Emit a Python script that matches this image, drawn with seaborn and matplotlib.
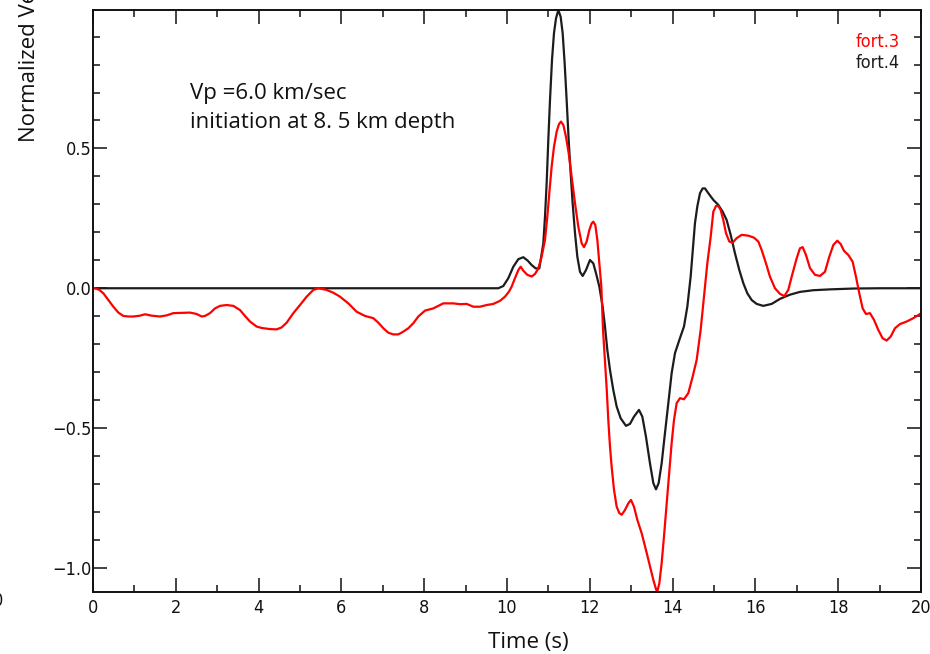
import matplotlib
matplotlib.use("Agg")
import matplotlib.pyplot as plt
from matplotlib import font_manager
from matplotlib.ticker import MultipleLocator, FuncFormatter
import seaborn as sns
import pandas as pd

# fort.3 trace (time in s, normalized velocity)
fort3_t = [0.000, 0.048, 0.153, 0.250, 0.370, 0.491, 0.612, 0.733, 0.853, 0.974, 1.135,
           1.256, 1.417, 1.618, 1.779, 1.940, 2.142, 2.343, 2.504, 2.625, 2.705, 2.826,
           2.947, 3.068, 3.229, 3.390, 3.551, 3.671, 3.792, 3.953, 4.074, 4.275, 4.436,
           4.557, 4.678, 4.839, 5.000, 5.161, 5.322, 5.443, 5.644, 5.805, 5.966, 6.167,
           6.369, 6.570, 6.771, 6.892, 7.013, 7.134, 7.254, 7.375, 7.496, 7.617, 7.738,
           7.858, 8.019, 8.221, 8.462, 8.704, 8.865, 9.026, 9.187, 9.348, 9.509, 9.670,
           9.831, 9.952, 10.048, 10.113, 10.193, 10.274, 10.330, 10.394, 10.491, 10.596,
           10.676, 10.757, 10.837, 10.918, 10.974, 11.022, 11.079, 11.135, 11.200, 11.256,
           11.304, 11.361, 11.425, 11.490, 11.562, 11.643, 11.723, 11.804, 11.860, 11.924,
           11.989, 12.045, 12.085, 12.134, 12.182, 12.230, 12.279, 12.320, 12.370, 12.410,
           12.447, 12.488, 12.528, 12.585, 12.649, 12.713, 12.770, 12.850, 12.931, 12.995,
           13.067, 13.148, 13.253, 13.357, 13.454, 13.535, 13.599, 13.630, 13.680, 13.736,
           13.792, 13.857, 13.921, 13.977, 14.034, 14.098, 14.179, 14.275, 14.380, 14.485,
           14.582, 14.678, 14.758, 14.839, 14.920, 14.984, 15.048, 15.105, 15.161, 15.225,
           15.290, 15.370, 15.451, 15.547, 15.668, 15.829, 15.966, 16.071, 16.151, 16.256,
           16.353, 16.473, 16.594, 16.699, 16.795, 16.876, 16.997, 17.077, 17.142, 17.222,
           17.319, 17.440, 17.560, 17.681, 17.786, 17.883, 17.979, 18.060, 18.140, 18.245,
           18.349, 18.430, 18.510, 18.591, 18.671, 18.768, 18.865, 18.969, 19.074, 19.171,
           19.267, 19.372, 19.493, 19.654, 19.815, 20.000]
fort3_v = [0.000, 0.000, -0.006, -0.018, -0.042, -0.066, -0.087, -0.099, -0.101, -0.101,
           -0.098, -0.093, -0.098, -0.101, -0.097, -0.089, -0.088, -0.087, -0.092, -0.101,
           -0.099, -0.089, -0.072, -0.063, -0.060, -0.063, -0.078, -0.099, -0.119, -0.137,
           -0.142, -0.146, -0.147, -0.140, -0.123, -0.089, -0.060, -0.030, -0.006, 0.000,
           -0.006, -0.016, -0.030, -0.054, -0.084, -0.099, -0.107, -0.123, -0.143, -0.159,
           -0.165, -0.165, -0.155, -0.143, -0.125, -0.101, -0.080, -0.072, -0.054, -0.054,
           -0.057, -0.056, -0.066, -0.066, -0.060, -0.056, -0.045, -0.030, -0.012, 0.006,
           0.036, 0.065, 0.077, 0.063, 0.048, 0.042, 0.051, 0.071, 0.113, 0.173, 0.256,
           0.340, 0.435, 0.506, 0.560, 0.587, 0.596, 0.584, 0.542, 0.483, 0.399, 0.304,
           0.220, 0.161, 0.147, 0.167, 0.208, 0.232, 0.238, 0.226, 0.173, 0.089, 0.006,
           -0.149, -0.268, -0.364, -0.471, -0.566, -0.638, -0.721, -0.781, -0.804, -0.810,
           -0.793, -0.769, -0.757, -0.781, -0.828, -0.876, -0.936, -0.995, -1.043, -1.076,
           -1.085, -1.055, -0.983, -0.888, -0.769, -0.650, -0.554, -0.471, -0.411, -0.393,
           -0.397, -0.375, -0.316, -0.256, -0.149, -0.030, 0.089, 0.184, 0.274, 0.294,
           0.294, 0.280, 0.244, 0.197, 0.167, 0.163, 0.179, 0.191, 0.188, 0.181, 0.167,
           0.137, 0.089, 0.041, 0.000, -0.020, -0.028, -0.006, 0.041, 0.107, 0.143, 0.147,
           0.119, 0.072, 0.048, 0.044, 0.059, 0.113, 0.155, 0.170, 0.158, 0.134, 0.119,
           0.095, 0.041, -0.018, -0.072, -0.092, -0.089, -0.113, -0.149, -0.179, -0.187,
           -0.173, -0.143, -0.128, -0.119, -0.107, -0.090]

# fort.4 trace
fort4_t = [0.000, 9.589, 9.790, 9.911, 10.032, 10.153, 10.274, 10.394, 10.499, 10.596,
           10.693, 10.781, 10.878, 10.918, 10.958, 10.998, 11.039, 11.087, 11.135, 11.184,
           11.240, 11.296, 11.345, 11.393, 11.441, 11.490, 11.538, 11.586, 11.643, 11.699,
           11.763, 11.828, 11.908, 12.005, 12.085, 12.150, 12.230, 12.311, 12.367, 12.424,
           12.488, 12.568, 12.649, 12.746, 12.874, 12.971, 13.068, 13.188, 13.269, 13.357,
           13.454, 13.535, 13.599, 13.663, 13.736, 13.816, 13.897, 13.977, 14.058, 14.163,
           14.275, 14.356, 14.436, 14.540, 14.597, 14.662, 14.726, 14.783, 14.863,
           14.984, 15.105, 15.209, 15.306, 15.403, 15.507, 15.612, 15.709, 15.805, 15.910,
           16.031, 16.191, 16.393, 16.594, 16.836, 17.077, 17.400, 17.800, 18.370, 19.000,
           20.000]
fort4_v = [0.000, 0.000, 0.000, 0.008, 0.036, 0.077, 0.104, 0.111, 0.099, 0.083, 0.071,
           0.071, 0.161, 0.256, 0.375, 0.530, 0.673, 0.816, 0.912, 0.965, 0.995, 0.971,
           0.912, 0.804, 0.673, 0.530, 0.411, 0.304, 0.197, 0.113, 0.059, 0.044, 0.065,
           0.101, 0.089, 0.054, 0.006, -0.066, -0.137, -0.221, -0.292, -0.364, -0.423,
           -0.465, -0.492, -0.485, -0.459, -0.435, -0.459, -0.531, -0.626, -0.697, -0.719,
           -0.697, -0.626, -0.518, -0.411, -0.304, -0.232, -0.185, -0.137, -0.066, 0.041,
           0.232, 0.292, 0.340, 0.357, 0.357, 0.340, 0.316, 0.298, 0.274, 0.244,
           0.191, 0.125, 0.065, 0.018, -0.018, -0.042, -0.056, -0.063, -0.056, -0.038,
           -0.023, -0.013, -0.007, -0.004, -0.001, 0.000, 0.000]

series_names = ["fort.3", "fort.4"]
series_colors = ["#ff0000", "#1c1c1c"]
x_label = "Time (s)"
y_label = "Normalized Velocity"
note_lines = ["Vp =6.0 km/sec", "initiation at 8. 5 km depth"]

sns.set_theme(style="ticks")
available = {f.name for f in font_manager.fontManager.ttflist}
text_font = "Open Sans" if "Open Sans" in available else "DejaVu Sans"
plt.rcParams["font.family"] = ["DejaVu Sans"]
plt.rcParams["font.stretch"] = "condensed"

fig = plt.figure(figsize=(9.30, 6.54), dpi=100)
ax = fig.add_axes([0.1, 0.0953, 0.8903, 0.8894])

df = pd.concat([
    pd.DataFrame({"t": fort3_t, "v": fort3_v, "trace": series_names[0]}),
    pd.DataFrame({"t": fort4_t, "v": fort4_v, "trace": series_names[1]}),
])
sns.lineplot(data=df, x="t", y="v", hue="trace", palette=dict(zip(series_names, series_colors)),
             hue_order=series_names[::-1], sort=False, estimator=None, linewidth=1.6,
             legend=False, ax=ax)
for ln in ax.get_lines():
    ln.set_solid_joinstyle("round")

ax.set_xlim(0, 20)
ax.set_ylim(min(fort3_v), max(fort4_v))
ax.xaxis.set_major_locator(MultipleLocator(2))
ax.xaxis.set_minor_locator(MultipleLocator(1))
ax.yaxis.set_major_locator(MultipleLocator(0.5))
ax.yaxis.set_minor_locator(MultipleLocator(0.1))
ax.xaxis.set_major_formatter(FuncFormatter(lambda v, p: f"{v:.0f}"))
ax.yaxis.set_major_formatter(FuncFormatter(lambda v, p: f"{v:.1f}".replace("-", "\u2212")))
ax.tick_params(which="both", direction="in", top=True, right=True, width=1.1,
               color="#111111", labelsize=13, labelcolor="#111111")
ax.tick_params(which="major", length=10)
ax.tick_params(which="minor", length=5)
ax.tick_params(axis="x", which="major", pad=5)
ax.tick_params(axis="y", which="major", pad=1)
for s in ax.spines.values():
    s.set_linewidth(1.4)
    s.set_color("#111111")
ax.set_xlabel("")
ax.set_ylabel("")

# axis titles and annotation
fig.text(528 / 930, 1 - 648 / 654, x_label, ha="center", va="baseline",
         fontsize=16, family=[text_font, "DejaVu Sans"], stretch="normal", color="#111111")
fig.text(30 / 930, 1 - 142 / 654, y_label, ha="center", va="bottom", rotation=90,
         fontsize=16, family=[text_font, "DejaVu Sans"], stretch="normal", color="#111111")
for i, line in enumerate(note_lines):
    fig.text(190 / 930, 1 - (99 + 29 * i) / 654, line, ha="left", va="baseline",
             fontsize=16, family=[text_font, "DejaVu Sans"], stretch="normal", color="#111111")

# trace labels in the top-right corner
for i, (name, col) in enumerate(zip(series_names, series_colors)):
    fig.text(900 / 930, 1 - (47 + 21 * i) / 654, name, ha="right", va="baseline",
             fontsize=13, color=col)

# partial tick label at the left edge
fig.text(3 / 930, 1 - 606 / 654, "0", ha="right", va="baseline", fontsize=13, color="#111111")

fig.savefig("out.png", dpi=100)
